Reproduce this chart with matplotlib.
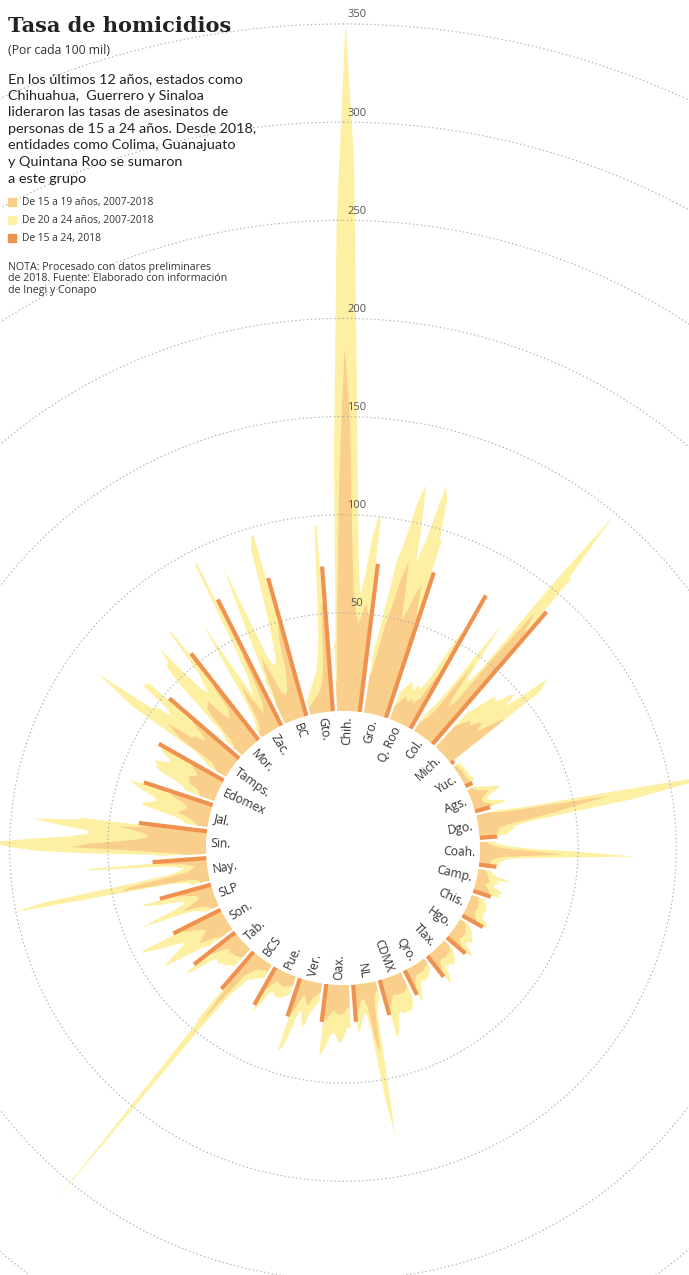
import numpy as np
import matplotlib.pyplot as plt
from matplotlib.transforms import offset_copy

W, H = 689, 1275

# estados, en el orden del circulo (sentido horario desde arriba)
states = ['Chih.', 'Gro.', 'Q. Roo', 'Col.', 'Mich.', 'Yuc.', 'Ags.', 'Dgo.',
          'Coah.', 'Camp.', 'Chis.', 'Hgo.', 'Tlax.', 'Qro.', 'CDMX', 'NL',
          'Oax.', 'Ver.', 'Pue.', 'BCS', 'Tab.', 'Son.', 'SLP', 'Nay.',
          'Sin.', 'Jal.', 'Edomex', 'Tamps.', 'Mor.', 'Zac.', 'BC', 'Gto.']
years = list(range(2007, 2019))

# tasa de 15 a 19 anos, 2007-2018 (una fila por estado)
t15_19 = [
    [15, 55, 120, 185, 150, 90, 60, 50, 45, 50, 55, 50],   # Chih.
    [20, 30, 45, 55, 70, 80, 65, 50, 55, 65, 70, 55],      # Gro.
    [8, 10, 12, 14, 12, 12, 14, 12, 14, 15, 22, 30],       # Q. Roo
    [5, 8, 10, 15, 30, 45, 25, 20, 25, 55, 85, 75],        # Col.
    [15, 18, 20, 22, 20, 22, 25, 25, 20, 25, 30, 35],      # Mich.
    [2, 2, 2, 2, 3, 2, 3, 2, 3, 3, 3, 3],                  # Yuc.
    [3, 4, 5, 8, 10, 8, 6, 5, 5, 6, 8, 10],                # Ags.
    [8, 15, 35, 69, 50, 40, 25, 15, 10, 10, 10, 8],        # Dgo.
    [4, 5, 8, 12, 25, 43, 25, 12, 8, 6, 6, 6],             # Coah.
    [4, 5, 5, 6, 6, 7, 6, 5, 6, 7, 8, 8],                  # Camp.
    [4, 4, 5, 5, 5, 6, 5, 5, 5, 6, 7, 8],                  # Chis.
    [3, 4, 5, 5, 6, 6, 6, 6, 5, 6, 8, 9],                  # Hgo.
    [4, 5, 6, 6, 6, 7, 6, 6, 6, 7, 9, 10],                 # Tlax.
    [3, 4, 4, 5, 5, 5, 5, 5, 5, 6, 8, 10],                 # Qro.
    [8, 9, 10, 10, 10, 10, 10, 9, 10, 12, 14, 15],         # CDMX
    [5, 6, 8, 18, 37, 30, 12, 8, 8, 9, 12, 14],            # NL
    [12, 12, 14, 15, 15, 15, 14, 13, 14, 16, 18, 18],      # Oax.
    [5, 6, 7, 8, 12, 12, 10, 8, 9, 12, 16, 18],            # Ver.
    [5, 6, 6, 7, 7, 7, 7, 6, 6, 8, 10, 12],                # Pue.
    [4, 4, 5, 5, 6, 6, 8, 10, 12, 25, 45, 20],             # BCS
    [6, 7, 7, 8, 8, 8, 9, 8, 8, 10, 14, 16],               # Tab.
    [8, 10, 14, 18, 16, 14, 12, 12, 14, 16, 20, 22],       # Son.
    [4, 5, 6, 10, 18, 14, 10, 8, 8, 10, 14, 18],           # SLP
    [5, 6, 10, 45, 40, 20, 10, 8, 6, 8, 12, 25],           # Nay.
    [12, 25, 40, 69, 60, 45, 35, 30, 30, 35, 45, 30],      # Sin.
    [6, 7, 9, 12, 16, 15, 13, 12, 13, 15, 20, 22],         # Jal.
    [8, 9, 10, 14, 16, 16, 17, 15, 13, 14, 16, 18],        # Edomex
    [6, 8, 10, 30, 35, 40, 25, 25, 20, 20, 25, 30],        # Tamps.
    [6, 8, 15, 25, 30, 30, 32, 20, 18, 20, 22, 35],        # Mor.
    [3, 4, 6, 10, 20, 28, 18, 10, 12, 14, 22, 40],         # Zac.
    [12, 30, 35, 25, 15, 14, 14, 16, 20, 26, 40, 48],      # BC
    [4, 5, 6, 7, 8, 9, 10, 12, 15, 20, 30, 55],            # Gto.
]

# tasa de 20 a 24 anos, 2007-2018
t20_24 = [
    [35, 130, 250, 352, 280, 170, 110, 75, 60, 70, 90, 100],
    [35, 55, 80, 90, 110, 120, 100, 80, 95, 122, 115, 95],
    [15, 18, 20, 22, 20, 18, 22, 20, 22, 28, 40, 55],
    [10, 15, 20, 30, 50, 70, 40, 35, 45, 100, 148, 110],
    [25, 30, 35, 40, 38, 40, 45, 48, 40, 50, 66, 60],
    [4, 4, 4, 5, 4, 4, 5, 4, 5, 5, 6, 5],
    [5, 8, 10, 14, 16, 14, 10, 8, 8, 10, 14, 16],
    [15, 30, 70, 130, 100, 80, 45, 25, 18, 18, 16, 14],
    [8, 10, 15, 25, 50, 79, 45, 22, 14, 12, 10, 10],
    [7, 8, 10, 18, 10, 12, 10, 9, 12, 15, 12, 14],
    [7, 8, 9, 9, 10, 10, 9, 10, 9, 11, 13, 14],
    [6, 7, 9, 9, 10, 11, 12, 10, 9, 11, 14, 16],
    [7, 8, 10, 11, 12, 12, 10, 11, 10, 13, 16, 18],
    [6, 7, 8, 9, 9, 10, 9, 9, 10, 12, 15, 18],
    [16, 18, 20, 20, 20, 20, 20, 18, 20, 24, 28, 30],
    [10, 12, 16, 40, 79, 60, 25, 16, 15, 18, 22, 24],
    [22, 22, 25, 28, 30, 28, 25, 25, 26, 30, 33, 36],
    [10, 12, 14, 16, 22, 24, 20, 16, 18, 26, 35, 38],
    [10, 11, 12, 13, 13, 14, 13, 12, 12, 15, 20, 25],
    [8, 8, 10, 10, 12, 12, 15, 20, 25, 50, 162, 45],
    [12, 13, 14, 15, 15, 16, 17, 16, 16, 20, 28, 32],
    [15, 20, 30, 40, 35, 30, 25, 25, 30, 35, 40, 45],
    [8, 10, 12, 20, 40, 30, 20, 16, 16, 22, 30, 36],
    [10, 12, 20, 100, 85, 40, 20, 14, 12, 16, 24, 60],
    [25, 55, 85, 100, 110, 90, 70, 60, 60, 75, 89, 65],
    [12, 14, 18, 26, 35, 34, 30, 28, 30, 35, 40, 43],
    [16, 18, 22, 30, 34, 34, 36, 32, 28, 30, 34, 36],
    [12, 15, 20, 60, 70, 84, 50, 50, 40, 45, 62, 60],
    [12, 16, 30, 50, 60, 60, 68, 40, 35, 40, 45, 71],
    [6, 8, 12, 20, 40, 65, 35, 20, 25, 30, 50, 93],
    [25, 55, 85, 55, 35, 30, 30, 35, 45, 60, 90, 96],
    [8, 10, 12, 14, 16, 18, 20, 25, 30, 40, 60, 95],
]

# tasa de 15 a 24 anos, 2018
t15_24_2018 = [76, 78, 78, 89, 2, 4, 8, 9, 9, 9.5, 12, 12.5, 13.5, 14, 18.5, 19,
               19.5, 20.5, 22, 25, 26.5, 27, 27, 27.5, 35, 37, 38, 47, 56, 72, 73, 74]

rings = [50, 100, 150, 200, 250, 300, 350]

c_1519 = '#f9cf8b'
c_2024 = '#fdf0a3'
c_2018 = '#f0924f'

fig = plt.figure(figsize=(W / 100, H / 100), dpi=100)

# polar axes centred on the circle, base of the bars at 137 px
cx, cy = 343, H - 848
scale = 1.963
r0 = 137
rmax = 420
R = r0 + scale * rmax
ax = fig.add_axes([(cx - R) / W, (cy - R) / H, 2 * R / W, 2 * R / H], projection='polar')
ax.set_theta_zero_location('N')
ax.set_theta_direction(-1)
ax.set_ylim(0, rmax)
ax.set_rorigin(-r0 / scale)
ax.axis('off')

sector = 360 / len(states)
slot = 0.75
starts = np.arange(len(states)) * sector - 2.45


def area(i, vals):
    th = starts[i] + (np.arange(len(years)) + 0.5) * slot
    th = np.concatenate([[starts[i]], th, [starts[i] + len(years) * slot]])
    v = np.concatenate([[vals[0]], vals, [vals[-1]]])
    t = np.deg2rad(np.concatenate([th, th[::-1]]))
    r = np.concatenate([v, np.zeros_like(v)])
    return t, r


for i in range(len(states)):
    ax.fill(*area(i, np.array(t20_24[i], float)), color=c_2024, lw=0, zorder=2)
    ax.fill(*area(i, np.array(t15_19[i], float)), color=c_1519, lw=0, zorder=3)
    to = np.deg2rad(starts[i] + 9.45)
    ax.plot([to, to], [0, t15_24_2018[i]], color=c_2018, lw=3, solid_capstyle='butt', zorder=4)

    # etiqueta del estado
    ang = starts[i] + 4.5
    disp = ((90 - ang) + 180) % 360 - 180
    if -90 <= disp <= 90:
        rot, ha = disp, 'right'
    else:
        rot, ha = disp + 180, 'left'
    ax.text(np.deg2rad(ang), -2.5, states[i], rotation=rot, rotation_mode='anchor',
            ha=ha, va='center', fontsize=8.7, family='Open Sans', color='#333333')

# anillos punteados
tt = np.linspace(0, 2 * np.pi, 720)
for v in rings:
    ax.plot(tt, np.full_like(tt, v), ls=(0, (1.3, 2.2)), lw=0.8, color='#b0b0b0', zorder=5)
    tr = offset_copy(ax.transData, fig=fig, x=14, y=9, units='dots')
    ax.text(0, v, str(v), transform=tr, ha='center', va='center', fontsize=8,
            family='Open Sans', color='#555555', zorder=6)


def px(x, y):
    return x / W, 1 - y / H


fig.text(*px(8, 26), 'Tasa de homicidios', fontsize=15, fontweight='bold',
         family='DejaVu Serif', color='#222222', va='center')
fig.text(*px(8, 50), '(Por cada 100 mil)', fontsize=8.8, family='Open Sans',
         color='#333333', va='center')

para = ['En los últimos 12 años, estados como',
        'Chihuahua,  Guerrero y Sinaloa',
        'lideraron las tasas de asesinatos de',
        'personas de 15 a 24 años. Desde 2018,',
        'entidades como Colima, Guanajuato',
        'y Quintana Roo se sumaron',
        'a este grupo']
for k, line in enumerate(para):
    fig.text(*px(8, 79 + k * 16.6), line, fontsize=10.4, family='Lato',
             color='#222222', va='center')

legend = [(c_1519, 'De 15 a 19 años, 2007-2018'),
          (c_2024, 'De 20 a 24 años, 2007-2018'),
          (c_2018, 'De 15 a 24, 2018')]
for k, (c, lab) in enumerate(legend):
    y = 202 + k * 18
    fig.patches.append(plt.Rectangle(px(8, y + 4), 8 / W, 8 / H, color=c,
                                     transform=fig.transFigure, figure=fig))
    fig.text(*px(22, y), lab, fontsize=7.4, family='Open Sans', color='#333333', va='center')

nota = ['NOTA: Procesado con datos preliminares',
        'de 2018. Fuente: Elaborado con información',
        'de Inegi y Conapo']
for k, line in enumerate(nota):
    fig.text(*px(8, 267 + k * 11.8), line, fontsize=7.7, family='Open Sans',
             color='#333333', va='center')

fig.savefig('out.png', dpi=100)
